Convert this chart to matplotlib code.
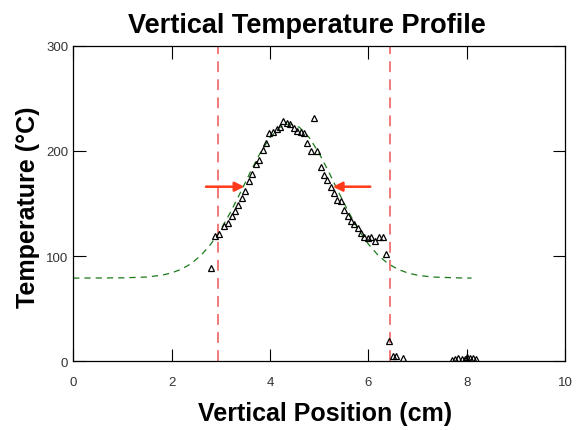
import numpy as np
import matplotlib.pyplot as plt

plt.rcParams['font.family'] = ['Liberation Sans', 'DejaVu Sans']

# measured temperatures (triangles)
pos_cm = [2.80, 2.89, 2.97, 3.06, 3.14, 3.22, 3.29, 3.36, 3.43, 3.50,
          3.58, 3.64, 3.72, 3.78, 3.86, 3.92, 3.99, 4.06, 4.14, 4.21,
          4.27, 4.34, 4.41, 4.48, 4.56, 4.63, 4.70, 4.75, 4.83, 4.90,
          4.96, 5.04, 5.10, 5.17, 5.24, 5.30, 5.37, 5.45, 5.51, 5.58,
          5.65, 5.71, 5.79, 5.85, 5.92, 5.99, 6.06, 6.14, 6.22, 6.29,
          6.37, 6.43, 6.51, 6.56, 6.71, 7.70, 7.76, 7.83, 7.90, 7.97,
          8.01, 8.07, 8.12, 8.19]
temp_c = [88.6, 118.7, 121, 129, 131.4, 138, 143, 148.6, 155, 162,
          171.7, 178, 188, 191, 201, 208, 217, 218, 221, 222.5,
          229, 227, 225.7, 221.6, 218.7, 218, 217, 208, 200, 231,
          200, 185, 177, 172, 166, 160, 153, 152, 144, 138.4,
          133.6, 130.5, 127, 122, 118.4, 117, 117.8, 114.6, 117.8, 117.8,
          101.9, 19.4, 5, 5, 2.5, 1, 2, 3, 2, 2,
          3.5, 3, 2.5, 2]

# gaussian fit curve
fit_x = [0.0, 1.0, 1.5, 1.8, 2.0, 2.2, 2.4, 2.6, 2.8, 3.0, 3.2, 3.4,
         3.6, 3.8, 4.0, 4.2, 4.4, 4.6, 4.8, 5.0, 5.2, 5.4, 5.6, 5.8,
         6.0, 6.2, 6.4, 6.6, 6.8, 7.0, 7.3, 7.8, 8.1]
fit_y = [79, 79.2, 80.0, 81.7, 83.9, 87.4, 92.8, 100.7, 111.4, 125.2, 141.8, 160.4,
         179.7, 197.9, 212.7, 222.6, 226, 222.6, 212.7, 197.9, 179.7, 160.4, 141.8, 125.2,
         111.4, 100.7, 92.8, 87.4, 83.9, 81.7, 80.0, 79.2, 79]

bounds_cm = [2.95, 6.44]
arrow_left = (2.70, 3.48)
arrow_right = (6.04, 5.28)
arrow_level = 166

fig = plt.figure(figsize=(5.76, 4.31), dpi=100)
ax = fig.add_axes([0.127, 0.160, 0.854, 0.731])

ax.plot(fit_x, fit_y, color='#1a7a1a', linestyle=(0, (5, 4)), linewidth=0.9)
for b in bounds_cm:
    ax.axvline(b, color='#f07070', linestyle=(0, (6, 4)), linewidth=1.3)
ax.plot(pos_cm, temp_c, linestyle='none', marker='^', markersize=5,
        markerfacecolor='none', markeredgecolor='black', markeredgewidth=0.9)

for x0, x1 in (arrow_left, arrow_right):
    ax.annotate('', xy=(x1, arrow_level), xytext=(x0, arrow_level),
                arrowprops=dict(arrowstyle='-|>', color='#ff3a1a', lw=1.8,
                                mutation_scale=14, shrinkA=0, shrinkB=0))

ax.set_xlim(0, 10)
ax.set_ylim(0, 300)
ax.set_xticks([0, 2, 4, 6, 8, 10])
ax.set_yticks([0, 100, 200, 300])
ax.tick_params(direction='in', length=9, width=0.8, labelsize=9.5,
               labelcolor='#333333', top=True, right=True)
ax.tick_params(axis='x', pad=11)
ax.tick_params(axis='y', pad=3.5)
for s in ax.spines.values():
    s.set_linewidth(0.9)

ax.set_title('Vertical Temperature Profile', fontsize=19.5, fontweight='bold',
             pad=10, x=0.475)
ax.set_xlabel('Vertical Position (cm)', fontsize=18, fontweight='bold',
              labelpad=9, x=0.512)
ax.set_ylabel('Temperature (°C)', fontsize=18, fontweight='bold', labelpad=4,
              y=0.49)

fig.savefig('out.png', dpi=100)
